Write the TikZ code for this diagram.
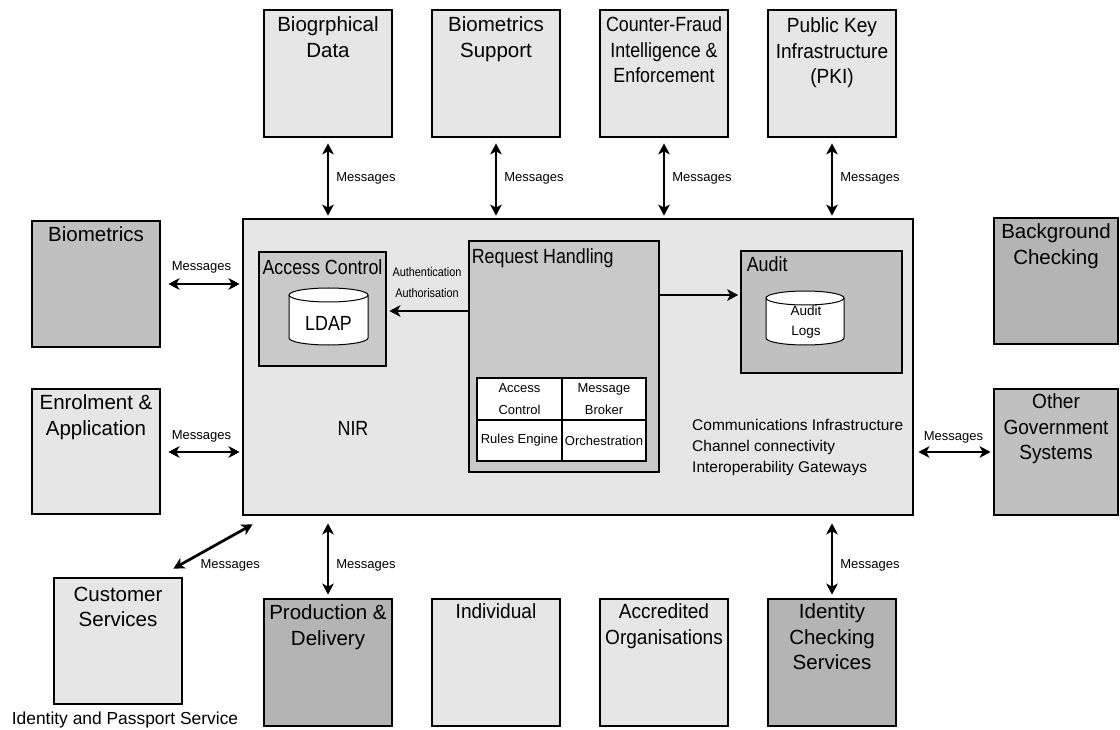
\documentclass[tikz,border=0pt]{standalone}
\usepackage{fontspec}
\setmainfont{Liberation Sans}
\newfontfamily\cnd[FakeStretch=0.87]{Liberation Sans}
\newfontfamily\snd[FakeStretch=0.93]{Liberation Sans}
\usetikzlibrary{arrows.meta}
\definecolor{lightbox}{RGB}{230,230,230}
\definecolor{midbox}{RGB}{201,201,201}
\definecolor{darkbox}{RGB}{192,192,192}
\definecolor{darkerbox}{RGB}{180,180,180}
\begin{document}
\begin{tikzpicture}[x=1pt, y=-1pt,
  sysbox/.style={draw=black, line width=2.75pt, rectangle, inner sep=0pt},
  sq/.style={sysbox, minimum width=128pt, minimum height=127pt},
  ttl/.style={anchor=north, inner sep=0pt, align=center, font=\fontsize{20.5}{25.5}\selectfont},
  ttlc/.style={ttl, font=\cnd\fontsize{20.5}{25.5}\selectfont},
  ttls/.style={ttl, font=\snd\fontsize{20.5}{25.5}\selectfont},
  msgl/.style={inner sep=0pt, font=\fontsize{13}{15}\selectfont},
  arrtwo/.style={line width=2.75pt, {Stealth[length=11pt,width=11.5pt,inset=3pt]}-{Stealth[length=11pt,width=11.5pt,inset=3pt]}},
  arrone/.style={line width=2.75pt, -{Stealth[length=11pt,width=11.5pt,inset=3pt]}},
  cyl/.style={draw=black, fill=white, line width=1pt},
  gridcell/.style={draw=black, fill=white, line width=2.2pt, inner sep=0pt, align=center, font=\fontsize{13}{22}\selectfont},
]
\useasboundingbox (0,0) rectangle (1120,730);

% main NIR box
\node[sysbox, fill=lightbox, minimum width=670pt, minimum height=296pt] (nir) at (578,367) {};
\node[inner sep=0pt, font=\cnd\fontsize{20.5}{24}\selectfont] (nirt) at (353,428) {NIR};

% top row
\node[sq, fill=lightbox] (bio) at (328,73.5) {};
\node[ttl] (biot) at ([yshift=-8pt]bio.north) {Biogrphical\\Data};
\node[sq, fill=lightbox] (bsup) at (496,73.5) {};
\node[ttl] (bsupt) at ([yshift=-8pt]bsup.north) {Biometrics\\Support};
\node[sq, fill=lightbox] (cfr) at (664,73.5) {};
\node[ttlc] (cfrt) at ([yshift=-8pt]cfr.north) {Counter-Fraud\\Intelligence \&\\Enforcement};
\node[sq, fill=lightbox] (pki) at (832,73.5) {};
\node[ttls] (pkit) at ([yshift=-9pt]pki.north) {Public Key\\Infrastructure\\(PKI)};

% left column
\node[sysbox, fill=darkbox, minimum width=128pt, minimum height=126pt] (biom) at (96,284) {};
\node[ttl] (biomt) at ([yshift=-7pt]biom.north) {Biometrics};
\node[sysbox, fill=lightbox, minimum width=128pt, minimum height=125pt] (enr) at (96,451.5) {};
\node[ttl] (enrt) at ([yshift=-7pt]enr.north) {Enrolment \&\\Application};
\node[sysbox, fill=lightbox, minimum width=128pt, minimum height=126pt] (cust) at (118,641) {};
\node[ttl] (custt) at ([yshift=-10pt]cust.north) {Customer\\Services};
\node[inner sep=0pt, font=\fontsize{17.4}{20}\selectfont] (ips) at (125,720) {Identity and Passport Service};

% bottom row
\node[sq, fill=darkerbox] (prod) at (328,662.5) {};
\node[ttl] (prodt) at ([yshift=-7pt]prod.north) {Production \&\\Delivery};
\node[sq, fill=lightbox] (indv) at (496,662.5) {};
\node[ttls] (indvt) at ([yshift=-6pt]indv.north) {Individual};
\node[sq, fill=lightbox] (accr) at (664,662.5) {};
\node[ttls] (accrt) at ([yshift=-6pt]accr.north) {Accredited\\Organisations};
\node[sq, fill=darkerbox] (idc) at (832,662.5) {};
\node[ttl] (idct) at ([yshift=-6pt]idc.north) {Identity\\Checking\\Services};

% right column
\node[sysbox, fill=darkerbox, minimum width=124pt, minimum height=126pt] (bgc) at (1056,281) {};
\node[ttl] (bgct) at ([yshift=-7pt]bgc.north) {Background\\Checking};
\node[sysbox, fill=darkbox, minimum width=124pt, minimum height=126pt] (ogs) at (1056,452) {};
\node[ttls] (ogst) at ([yshift=-6pt]ogs.north) {Other\\Government\\Systems};

% Access control
\node[sysbox, fill=midbox, minimum width=127pt, minimum height=114pt] (ac) at (322.5,309) {};
\node[ttlc] (act) at ([yshift=-9pt]ac.north) {Access Control};
\filldraw[cyl] (289,295) -- (289,338) arc[start angle=180,end angle=360,x radius=39.5pt,y radius=7pt] -- (368,295) arc[start angle=0,end angle=180,x radius=39.5pt,y radius=7pt] -- cycle;
\draw[cyl, fill=none] (289,295) arc[start angle=180,end angle=360,x radius=39.5pt,y radius=7pt];
\node[inner sep=0pt, font=\cnd\fontsize{20.5}{24}\selectfont] (ldap) at (328.5,323) {LDAP};

% Request handling
\node[sysbox, fill=midbox, minimum width=190pt, minimum height=231pt] (rh) at (564,356.5) {};
\node[ttlc, anchor=north west] (rht) at ([shift={(4pt,-9pt)}]rh.north west) {Request Handling};
\node[gridcell, minimum width=85pt, minimum height=42pt] (g1) at (519.5,399) {Access\\Control};
\node[gridcell, minimum width=84pt, minimum height=42pt] (g2) at (604,399) {Message\\Broker};
\node[gridcell, minimum width=85pt, minimum height=41pt] (g3) at (519.5,440.5) {Rules Engine};
\node[gridcell, minimum width=84pt, minimum height=41pt] (g4) at (604,440.5) {Orchestration};

% Audit
\node[sysbox, fill=darkbox, minimum width=161pt, minimum height=122pt] (aud) at (821.5,312) {};
\node[ttlc, anchor=north west] (audt) at ([shift={(7pt,-7pt)}]aud.north west) {Audit};
\filldraw[cyl] (766,298) -- (766,338) arc[start angle=180,end angle=360,x radius=39pt,y radius=7pt] -- (844,298) arc[start angle=0,end angle=180,x radius=39pt,y radius=7pt] -- cycle;
\draw[cyl, fill=none] (766,298) arc[start angle=180,end angle=360,x radius=39pt,y radius=7pt];
\node[inner sep=0pt, align=center, font=\fontsize{13.5}{20}\selectfont] (logs) at (806,322) {Audit\\Logs};

% communications text
\node[anchor=west, align=left, inner sep=0pt, font=\fontsize{15.5}{21}\selectfont] (comms) at (692,447.5) {Communications Infrastructure\\Channel connectivity\\Interoperability Gateways};

% authentication label
\node[inner sep=0pt, align=center, font=\cnd\fontsize{12.5}{21}\selectfont] (auth) at (427,282.5) {Authentication\\Authorisation};

% internal arrows
\coordinate (acin) at ([yshift=-2pt]ac.east);
\draw[arrone, shorten >=2pt] (rh.west |- acin) -- (acin);
\coordinate (audin) at ([yshift=17pt]aud.west);
\draw[arrone, shorten >=1.4pt] (rh.east |- audin) -- (audin);

% message arrows top
\foreach \b in {bio,bsup,cfr,pki}{
  \draw[arrtwo, shorten <=5pt, shorten >=2pt] (\b.south) -- (\b.south |- nir.north) node[midway, msgl, right=7pt] {Messages};
}
% left
\draw[arrtwo, shorten <=7pt, shorten >=2pt] (biom.east) -- (biom.east -| nir.west) node[midway, msgl, yshift=17pt] {Messages};
\draw[arrtwo, shorten <=7pt, shorten >=2pt] (enr.east |- ogs.west) -- (ogs.west -| nir.west) node[midway, msgl, yshift=16pt] {Messages};
% right
\draw[arrtwo, shorten <=4pt, shorten >=2pt] (ogs.west -| nir.east) -- (ogs.west) node[midway, msgl, yshift=15pt] {Messages};
% diagonal
\coordinate (dgA) at ([shift={(-10pt,8pt)}]cust.north east);
\coordinate (dgB) at ([shift={(11pt,-8pt)}]nir.south west);
\draw[arrtwo] (dgA) -- (dgB) node[pos=0.3, msgl, anchor=north west, xshift=2pt, yshift=-3pt] {Messages};
% bottom
\draw[arrtwo, shorten <=7pt, shorten >=3pt] (prod.north |- nir.south) -- (prod.north) node[pos=0.6, msgl, right=7pt] {Messages};
\draw[arrtwo, shorten <=7pt, shorten >=3pt] (idc.north |- nir.south) -- (idc.north) node[pos=0.6, msgl, right=7pt] {Messages};
\end{tikzpicture}
\end{document}
